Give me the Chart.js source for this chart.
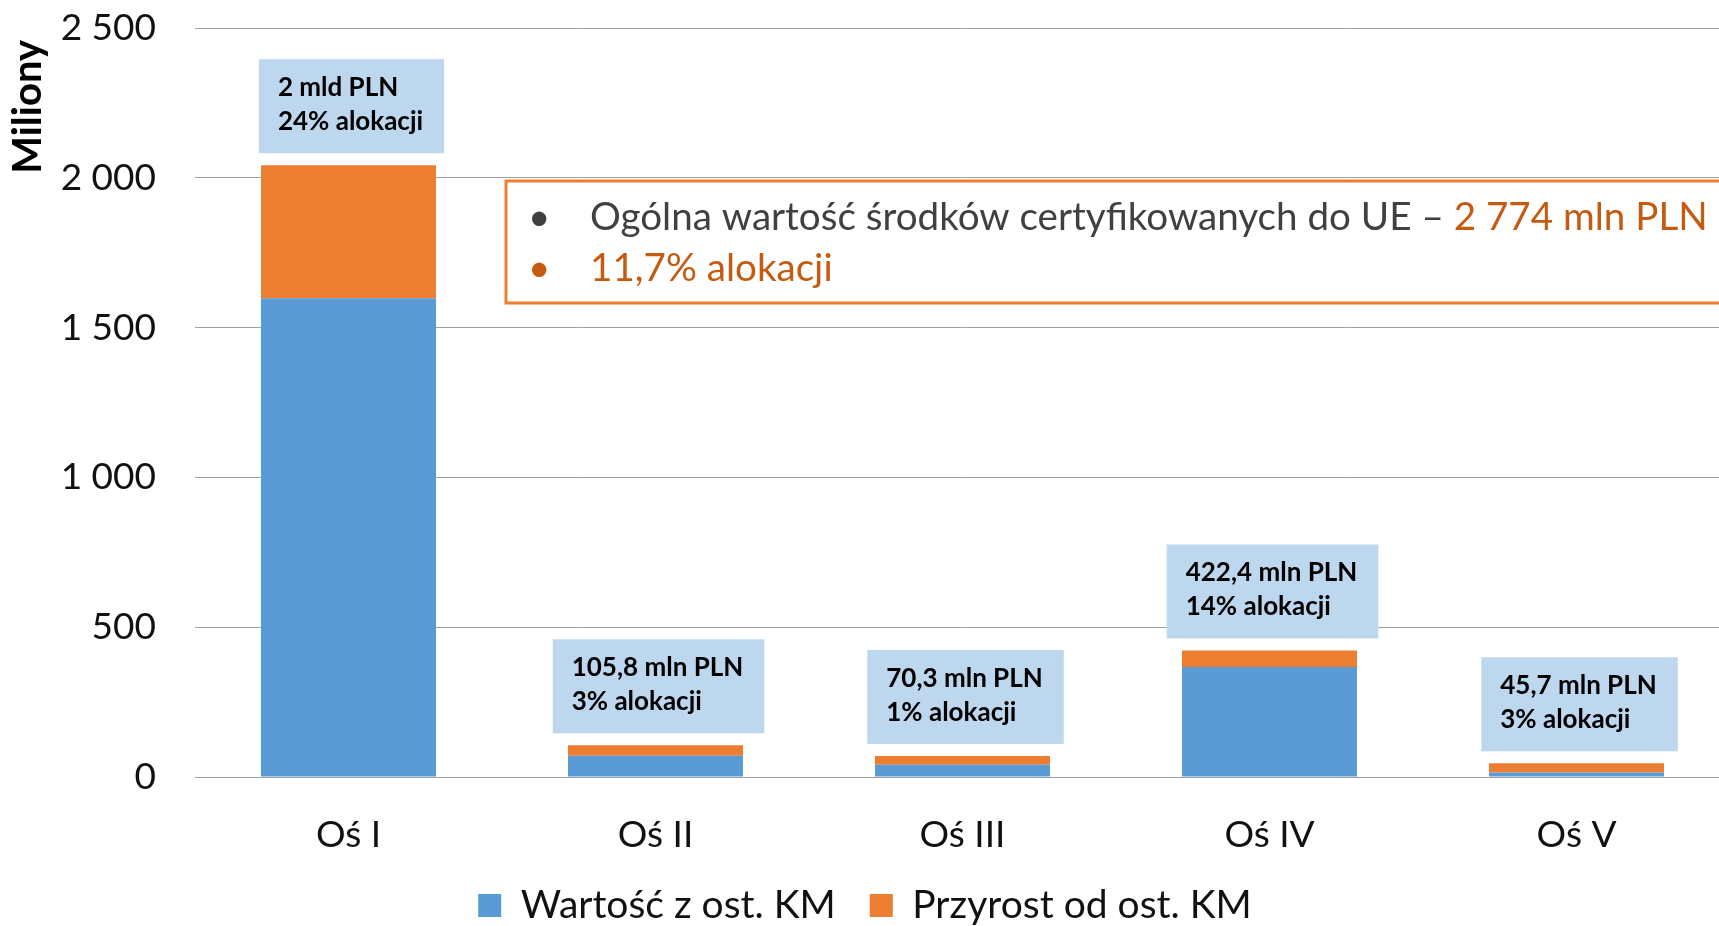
<!DOCTYPE html>
<html lang="pl">
<head>
<meta charset="utf-8">
<title>Środki certyfikowane do UE</title>
<script src="https://cdn.jsdelivr.net/npm/chart.js@4.4.1/dist/chart.umd.min.js"></script>
<style>
    html, body { margin: 0; padding: 0; background: #fff; overflow: hidden; }
    #wrap { width: 1740px; height: 926px; }
</style>
</head>
<body>
<div id="wrap"><canvas id="myChart" width="1740" height="926"></canvas></div>
<script>
    // dane (mln PLN)
    var categories = ['Oś I', 'Oś II', 'Oś III', 'Oś IV', 'Oś V'];
    var seriesNames = ['Wartość z ost. KM', 'Przyrost od ost. KM'];
    var lastValues = [1598, 71, 41, 367, 15];
    var increments = [444, 34.8, 29.3, 55.4, 30.7];
    var boxLine1 = ['2 mld PLN', '105,8 mln PLN', '70,3 mln PLN', '422,4 mln PLN', '45,7 mln PLN'];
    var boxLine2 = ['24% alokacji', '3% alokacji', '1% alokacji', '14% alokacji', '3% alokacji'];
    var yTicks = [0, 500, 1000, 1500, 2000, 2500];
    var yTitle = 'Miliony';
    var noteLine1 = 'Ogólna wartość środków certyfikowanych do UE – ';
    var noteValue = '2 774 mln PLN';
    var noteLine2 = '11,7% alokacji';

    var BLUE = '#5B9BD5';
    var ORANGE = '#ED7D31';
    var DARK_ORANGE = '#C55A11';

    function spaced(v) {
        return String(v).replace(/\B(?=(\d{3})+(?!\d))/g, ' ');
    }

    // etykiety nad słupkami (niebieskie prostokąty)
    var barBoxes = {
        id: 'barBoxes',
        afterDatasetsDraw: function (chart) {
            var ctx = chart.ctx;
            var meta = chart.getDatasetMeta(1);
            ctx.save();
            ctx.font = 'bold 26px Lato';
            meta.data.forEach(function (bar, i) {
                var w = Math.max(ctx.measureText(boxLine1[i]).width, ctx.measureText(boxLine2[i]).width) + 40;
                var h = 94;
                var left = bar.x + 3 - w / 2;
                var top = bar.y - 12 - h;
                ctx.fillStyle = '#BDD7EE';
                ctx.fillRect(left, top, w, h);
                ctx.fillStyle = '#000';
                ctx.textBaseline = 'alphabetic';
                ctx.textAlign = 'left';
                ctx.fillText(boxLine1[i], left + 19, top + 37);
                ctx.fillText(boxLine2[i], left + 19, top + 71);
            });
            ctx.restore();
        }
    };

    // ramka z podsumowaniem + tytuł osi Y
    var noteBox = {
        id: 'noteBox',
        afterDraw: function (chart) {
            var ctx = chart.ctx;
            var area = chart.chartArea;

            ctx.save();
            ctx.translate(28, area.top + 12);
            ctx.rotate(-Math.PI / 2);
            ctx.font = 'bold 40px Lato';
            ctx.fillStyle = '#000';
            ctx.textAlign = 'right';
            ctx.textBaseline = 'middle';
            ctx.fillText(yTitle, 0, 0);
            ctx.restore();

            var left = area.left + 311;
            var top = area.top + 153;
            ctx.save();
            ctx.fillStyle = '#fff';
            ctx.fillRect(left, top, chart.width, 122);
            ctx.strokeStyle = ORANGE;
            ctx.lineWidth = 3;
            ctx.strokeRect(left, top, chart.width, 122);

            // dopasowanie rozmiaru do szerokości pierwszej linii
            ctx.font = '37px Lato';
            var full = ctx.measureText(noteLine1 + noteValue).width;
            var size = 37 * 1118 / full;
            ctx.font = size + 'px Lato';
            ctx.textBaseline = 'alphabetic';
            var tx = left + 84;
            var bx = left + 22;
            ctx.fillStyle = '#404040';
            ctx.fillText('•', bx, top + 49);
            ctx.fillText(noteLine1, tx, top + 49);
            ctx.fillStyle = DARK_ORANGE;
            ctx.fillText(noteValue, tx + ctx.measureText(noteLine1).width, top + 49);
            ctx.fillText('•', bx, top + 100);
            ctx.fillText(noteLine2, tx, top + 100);
            ctx.restore();
        }
    };

    var data = {
        labels: categories,
        datasets: [{
            label: seriesNames[0],
            data: lastValues,
            backgroundColor: BLUE,
            borderWidth: 0
        }, {
            label: seriesNames[1],
            data: increments,
            backgroundColor: ORANGE,
            borderWidth: 0
        }]
    };

    var config = {
        type: 'bar',
        data: data,
        options: {
            responsive: false,
            animation: false,
            categoryPercentage: 1,
            barPercentage: 0.57,
            layout: { padding: { top: 28, right: 10, left: 0, bottom: -9 } },
            plugins: {
                legend: {
                    position: 'bottom',
                    labels: {
                        font: { family: 'Lato', size: 39 },
                        color: '#111',
                        boxWidth: 23,
                        boxHeight: 23,
                        padding: 34
                    }
                },
                tooltip: { enabled: false }
            },
            scales: {
                x: {
                    stacked: true,
                    grid: { display: false, drawTicks: false },
                    border: { display: false },
                    ticks: {
                        font: { family: 'Lato', size: 37 },
                        color: '#111',
                        padding: 36
                    },
                    afterFit: function (s) { s.height = 75; }
                },
                y: {
                    stacked: true,
                    min: yTicks[0],
                    max: yTicks[yTicks.length - 1],
                    afterBuildTicks: function (s) {
                        s.ticks = yTicks.map(function (v) { return { value: v }; });
                    },
                    ticks: {
                        font: { family: 'Lato', size: 37 },
                        color: '#111',
                        padding: 39,
                        callback: function (v) { return spaced(v); }
                    },
                    grid: { color: '#a0a0a0', lineWidth: 1, drawTicks: false },
                    border: { display: false },
                    afterFit: function (s) {
                        s.width = 195;
                        s.paddingTop = 0;
                        s.paddingBottom = 0;
                    }
                }
            }
        },
        plugins: [barBoxes, noteBox]
    };

    var myChart = new Chart(document.getElementById('myChart'), config);
</script>
</body>
</html>
